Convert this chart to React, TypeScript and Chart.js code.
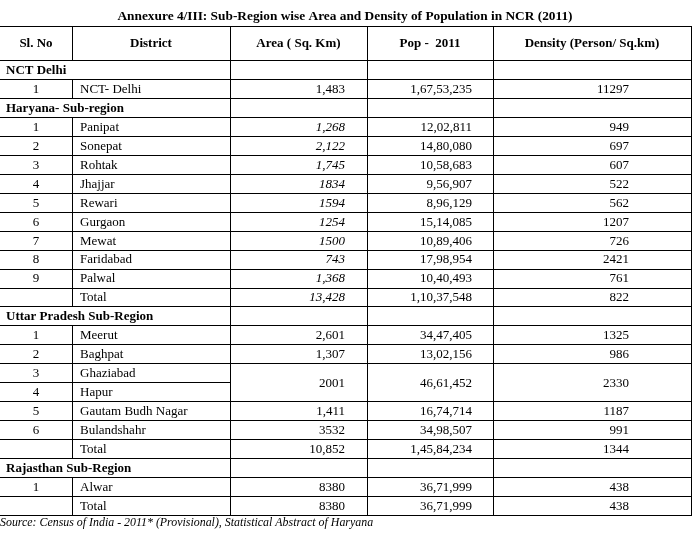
import React, { useEffect, useRef } from 'react';
import { Chart, registerables } from 'chart.js';

Chart.register(...registerables);

// ---------- data ----------
const title = 'Annexure 4/III: Sub-Region wise Area and Density of Population in NCR (2011)';
const headers = ['Sl. No', 'District', 'Area ( Sq. Km)', 'Pop -  2011', 'Density (Person/ Sq.km)'];
const sourceNote = 'Source: Census of India - 2011* (Provisional), Statistical Abstract of Haryana';

const rowKinds = [
  'group', 'item',
  'group', 'item', 'item', 'item', 'item', 'item', 'item', 'item', 'item', 'item', 'total',
  'group', 'item', 'item', 'item', 'item', 'item', 'item', 'total',
  'group', 'item', 'total',
];
const slNos = [
  '', '1',
  '', '1', '2', '3', '4', '5', '6', '7', '8', '9', '',
  '', '1', '2', '3', '4', '5', '6', '',
  '', '1', '',
];
const districts = [
  'NCT Delhi', 'NCT- Delhi',
  'Haryana- Sub-region', 'Panipat', 'Sonepat', 'Rohtak', 'Jhajjar', 'Rewari', 'Gurgaon', 'Mewat', 'Faridabad', 'Palwal', 'Total',
  'Uttar Pradesh Sub-Region', 'Meerut', 'Baghpat', 'Ghaziabad', 'Hapur', 'Gautam Budh Nagar', 'Bulandshahr', 'Total',
  'Rajasthan Sub-Region', 'Alwar', 'Total',
];
const areas = [
  '', '1,483',
  '', '1,268', '2,122', '1,745', '1834', '1594', '1254', '1500', '743', '1,368', '13,428',
  '', '2,601', '1,307', '2001', '', '1,411', '3532', '10,852',
  '', '8380', '8380',
];
const populations = [
  '', '1,67,53,235',
  '', '12,02,811', '14,80,080', '10,58,683', '9,56,907', '8,96,129', '15,14,085', '10,89,406', '17,98,954', '10,40,493', '1,10,37,548',
  '', '34,47,405', '13,02,156', '46,61,452', '', '16,74,714', '34,98,507', '1,45,84,234',
  '', '36,71,999', '36,71,999',
];
const densities = [
  '', '11297',
  '', '949', '697', '607', '522', '562', '1207', '726', '2421', '761', '822',
  '', '1325', '986', '2330', '', '1187', '991', '1344',
  '', '438', '438',
];
const italicAreaRows = [3, 4, 5, 6, 7, 8, 9, 10, 11, 12];
const mergedWithNextRows = [16]; // Ghaziabad + Hapur share Area / Pop / Density

// ---------- layout ----------
const W = 694;
const H = 533;
const TABLE_TOP = 26;
const HEADER_BOTTOM = 60;
const TABLE_BOTTOM = 515;
const COL_EDGES = [0, 72, 230, 367, 493, 691];
const DISTRICT_LEFT = 80;
const GROUP_LEFT = 6;
const AREA_RIGHT = 345;
const POP_RIGHT = 472;
const DENS_RIGHT = 629;
const SERIF = '"Liberation Serif", "Times New Roman", serif';

const tablePlugin = {
  id: 'tablePlugin',
  beforeDraw(chart: any) {
    const ctx = chart.ctx;
    ctx.save();
    ctx.fillStyle = '#ffffff';
    ctx.fillRect(0, 0, chart.width, chart.height);
    ctx.restore();
  },
  afterDraw(chart: any) {
    const ctx: CanvasRenderingContext2D = chart.ctx;
    const xs = chart.scales.x;
    const ys = chart.scales.y;
    const area = chart.chartArea;
    const n = districts.length;
    const rowH = (area.bottom - area.top) / n;
    const X = (v: number) => xs.getPixelForValue(v);
    const rowCenter = (i: number) => ys.getPixelForValue(i);
    const rowTop = (i: number) => (i >= n ? area.bottom : rowCenter(i) - rowH / 2);
    const crisp = (v: number) => Math.round(v) + 0.5;
    const headerTop = area.top - (HEADER_BOTTOM - TABLE_TOP);

    ctx.save();
    ctx.fillStyle = '#000';
    ctx.strokeStyle = '#000';
    ctx.lineWidth = 1;

    const hLine = (y: number, x0: number, x1: number) => {
      ctx.beginPath();
      ctx.moveTo(X(x0), crisp(y));
      ctx.lineTo(X(x1) + 1, crisp(y));
      ctx.stroke();
    };
    const vLine = (x: number, y0: number, y1: number) => {
      ctx.beginPath();
      ctx.moveTo(crisp(X(x)), Math.round(y0));
      ctx.lineTo(crisp(X(x)), Math.round(y1) + 1);
      ctx.stroke();
    };

    const last = COL_EDGES[COL_EDGES.length - 1];
    // horizontal lines
    hLine(headerTop, 0, last);
    hLine(area.top, 0, last);
    for (let i = 1; i <= n; i++) {
      const yb = rowTop(i);
      if (mergedWithNextRows.includes(i - 1)) hLine(yb, 0, COL_EDGES[2]);
      else hLine(yb, 0, last);
    }
    // vertical lines
    vLine(COL_EDGES[1], headerTop, area.top);
    for (let i = 0; i < n; i++) {
      if (rowKinds[i] !== 'group') vLine(COL_EDGES[1], rowTop(i), rowTop(i + 1));
    }
    for (let c = 2; c < COL_EDGES.length; c++) vLine(COL_EDGES[c], headerTop, area.bottom);

    const text = (s: string, x: number, y: number, align: CanvasTextAlign, font: string) => {
      if (!s) return;
      ctx.font = font;
      ctx.textAlign = align;
      ctx.textBaseline = 'middle';
      ctx.fillText(s, x, y);
    };

    // title
    text(title, X(345), 16.5, 'center', `bold 13.35px ${SERIF}`);

    // header
    const hy = (headerTop + area.top) / 2 + 1;
    for (let c = 0; c < headers.length; c++) {
      text(headers[c], (X(COL_EDGES[c]) + X(COL_EDGES[c + 1])) / 2, hy, 'center', `bold 13px ${SERIF}`);
    }

    // body
    for (let i = 0; i < n; i++) {
      const cy = rowCenter(i) + 1;
      if (rowKinds[i] === 'group') {
        text(districts[i], X(GROUP_LEFT), cy, 'left', `bold 13px ${SERIF}`);
        continue;
      }
      text(slNos[i], (X(COL_EDGES[0]) + X(COL_EDGES[1])) / 2, cy, 'center', `13px ${SERIF}`);
      text(districts[i], X(DISTRICT_LEFT), cy, 'left', `13px ${SERIF}`);
      const vy = mergedWithNextRows.includes(i) ? rowTop(i + 1) + 1 : cy;
      const areaFont = italicAreaRows.includes(i) ? `italic 13px ${SERIF}` : `13px ${SERIF}`;
      text(areas[i], X(AREA_RIGHT), vy, 'right', areaFont);
      text(populations[i], X(POP_RIGHT), vy, 'right', `13px ${SERIF}`);
      text(densities[i], X(DENS_RIGHT), vy, 'right', `13px ${SERIF}`);
    }

    // source note
    text(sourceNote, X(0), 522.5, 'left', `italic 11.9px ${SERIF}`);
    ctx.restore();
  },
};

export default function App() {
  const ref = useRef<HTMLCanvasElement | null>(null);
  useEffect(() => {
    if (!ref.current) return;
    const chart = new Chart(ref.current, {
      type: 'scatter',
      data: { labels: districts, datasets: [] },
      options: {
        responsive: false,
        animation: false,
        events: [],
        layout: {
          padding: { top: HEADER_BOTTOM, bottom: H - TABLE_BOTTOM, left: 0, right: W - COL_EDGES[COL_EDGES.length - 1] },
        },
        scales: {
          x: { type: 'linear', min: 0, max: COL_EDGES[COL_EDGES.length - 1], display: false },
          y: { type: 'category', labels: districts, offset: true, display: false },
        },
        plugins: { legend: { display: false }, tooltip: { enabled: false }, title: { display: false } },
      },
      plugins: [tablePlugin],
    } as any);
    return () => chart.destroy();
  }, []);
  return (
    <div style={{ position: 'absolute', left: 0, top: 0, width: W, height: H, background: '#fff' }}>
      <canvas ref={ref} width={W} height={H} style={{ display: 'block' }} />
    </div>
  );
}
